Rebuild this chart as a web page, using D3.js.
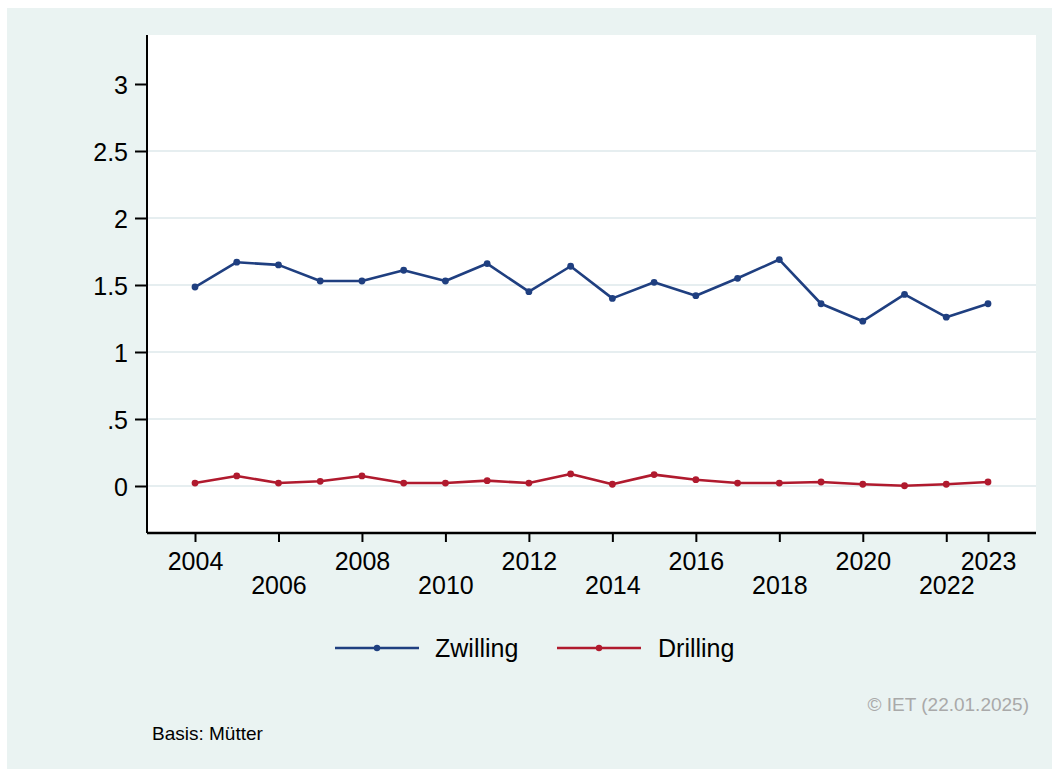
<!DOCTYPE html>
<html><head><meta charset="utf-8">
<script src="https://cdn.jsdelivr.net/npm/d3@7"></script>
<style>html,body{margin:0;padding:0;background:#fff;}svg{display:block;font-family:Arial,"Liberation Sans",sans-serif;}</style>
</head><body>
<script>
const years = [2004,2005,2006,2007,2008,2009,2010,2011,2012,2013,2014,2015,2016,2017,2018,2019,2020,2021,2022,2023];
const zwilling = [1.485,1.67,1.65,1.53,1.53,1.61,1.53,1.66,1.45,1.64,1.40,1.52,1.42,1.55,1.69,1.36,1.23,1.43,1.26,1.36];
const drilling = [0.022,0.075,0.022,0.035,0.075,0.022,0.022,0.04,0.022,0.09,0.013,0.085,0.047,0.022,0.022,0.03,0.013,0.002,0.013,0.03];
const yTicks = [0,0.5,1,1.5,2,2.5,3];
const yTickLabels = ["0",".5","1","1.5","2","2.5","3"];
const gridValues = [0,0.5,1,1.5,2,2.5];
const xTicks = [2004,2006,2008,2010,2012,2014,2016,2018,2020,2022,2023];
const xUpper = [2004,2008,2012,2016,2020,2023];
const seriesNames = ["Zwilling","Drilling"];
const colors = ["#1f3f80","#b01a2e"];
const footerRight = "© IET (22.01.2025)";
const footerLeft = "Basis: Mütter";

const W = 1052, H = 769;
const svg = d3.select("body").append("svg").attr("width", W).attr("height", H);
svg.append("rect").attr("x",7).attr("y",8).attr("width",W-7).attr("height",H-8).attr("fill","#eaf3f2");

const plot = {l:147, r:1036, t:35, b:533};
svg.append("rect").attr("x",plot.l).attr("y",plot.t).attr("width",plot.r-plot.l).attr("height",plot.b-plot.t).attr("fill","#fff");

const x = d3.scaleLinear().domain([2004,2023]).range([195,988]);
const y = d3.scaleLinear().domain([0,3]).range([486,84]);

// grid
svg.append("g").selectAll("line").data(gridValues).join("line")
  .attr("x1",plot.l).attr("x2",plot.r).attr("y1",d=>y(d)).attr("y2",d=>y(d))
  .attr("stroke","#e6eef0").attr("stroke-width",2);

// y axis
const yAxis = d3.axisLeft(y).tickValues(yTicks).tickSize(12).tickPadding(7)
  .tickFormat((d,i)=>yTickLabels[i]);
const gy = svg.append("g").attr("transform",`translate(${plot.l},0)`).call(yAxis);
gy.select(".domain").attr("d",`M0,${plot.t}V${plot.b}`).attr("stroke","#000").attr("stroke-width",2);
gy.selectAll(".tick line").attr("stroke","#000").attr("stroke-width",2);
gy.selectAll(".tick text").attr("font-size",25).attr("fill","#000").attr("font-family","Arial, 'Liberation Sans', sans-serif").attr("dy","0.36em");

// x axis
const xAxis = d3.axisBottom(x).tickValues(xTicks).tickSize(9).tickFormat(d3.format("d"));
const gx = svg.append("g").attr("transform",`translate(0,${plot.b})`).call(xAxis);
gx.select(".domain").attr("d",`M${plot.l},0H${plot.r}`).attr("stroke","#000").attr("stroke-width",2.5);
gx.selectAll(".tick line").attr("stroke","#000").attr("stroke-width",2);
gx.selectAll(".tick text").attr("font-size",25).attr("fill","#000").attr("font-family","Arial, 'Liberation Sans', sans-serif")
  .attr("dy",null).attr("y",d=> xUpper.includes(d) ? 37 : 61);

// lines
const line = d3.line().x((d,i)=>x(years[i])).y(d=>y(d));
[zwilling, drilling].forEach((s,k)=>{
  svg.append("path").datum(s).attr("d",line).attr("fill","none")
    .attr("stroke",colors[k]).attr("stroke-width",2.6).attr("stroke-linejoin","round");
  svg.append("g").selectAll("circle").data(s).join("circle")
    .attr("cx",(d,i)=>x(years[i])).attr("cy",d=>y(d)).attr("r",3.4).attr("fill",colors[k]);
});

// legend
const legendItems = [{x0:335, tx:435},{x0:557, tx:658}];
legendItems.forEach((it,k)=>{
  const g = svg.append("g");
  g.append("line").attr("x1",it.x0).attr("x2",it.x0+84).attr("y1",648).attr("y2",648)
    .attr("stroke",colors[k]).attr("stroke-width",2.6);
  g.append("circle").attr("cx",it.x0+42).attr("cy",648).attr("r",3.2).attr("fill",colors[k]);
  g.append("text").attr("x",it.tx).attr("y",657).attr("font-size",25).attr("fill","#000").text(seriesNames[k]);
});

svg.append("text").attr("x",1029).attr("y",711).attr("text-anchor","end").attr("font-size",19).attr("fill","#a9a9a9").text(footerRight);
svg.append("text").attr("x",152).attr("y",740).attr("font-size",19).attr("fill","#000").text(footerLeft);
</script>
</body></html>
